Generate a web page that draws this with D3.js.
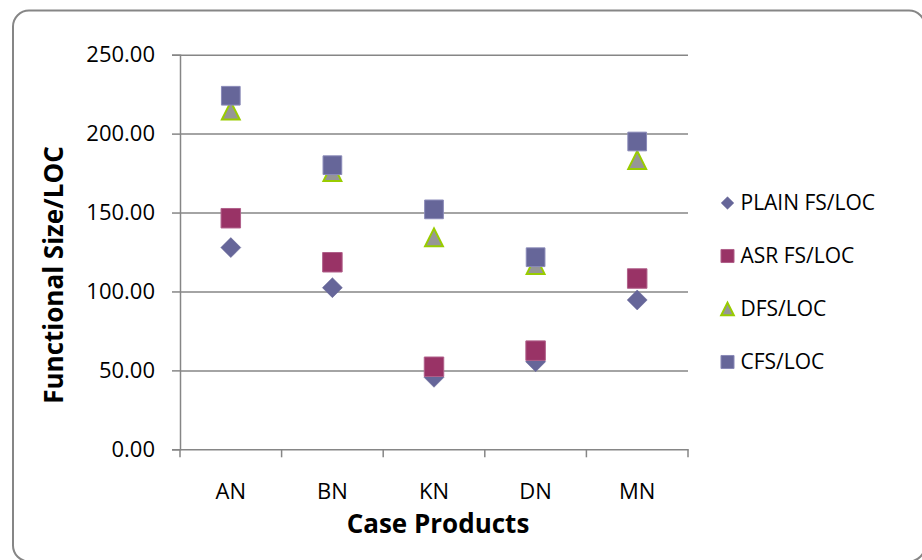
<!DOCTYPE html>
<meta charset="utf-8">
<style>
body { margin: 0; background: #fff; }
svg { display: block; }
.axis text { font-family: "Open Sans", "Liberation Sans", sans-serif; font-size: 22px; fill: #000; }
.axis line, .axis path { stroke: #868686; stroke-width: 1.5px; fill: none; }
.grid line { stroke: #868686; stroke-width: 1.5px; }
.grid path { display: none; }
.title { font-family: "Open Sans", "Liberation Sans", sans-serif; font-size: 26px; font-weight: bold; fill: #000; }
.legend text { font-family: "Open Sans", "Liberation Sans", sans-serif; font-size: 21px; fill: #000; }
</style>
<body>
<div id="chart"></div>
<script src="https://cdn.jsdelivr.net/npm/d3@7"></script>
<script>

// values
var categories = ["AN", "BN", "KN", "DN", "MN"];
var plainFs = [127.8, 102.4, 45.6, 55.5, 94.6];
var asrFs = [146.4, 118.5, 52.3, 62.5, 108.2];
var dfs = [214.6, 175.7, 134.3, 116.8, 183.3];
var cfs = [224.0, 180.0, 152.0, 121.7, 195.0];
var yTicks = [0, 50, 100, 150, 200, 250];
var seriesNames = ["PLAIN FS/LOC", "ASR FS/LOC", "DFS/LOC", "CFS/LOC"];

// triangle centred on its box, like the spreadsheet markers
var boxTriangle = {
  draw: function(ctx, size) {
    var h = Math.sqrt(size);
    ctx.moveTo(0, -h / 2);
    ctx.lineTo(h / 2, h / 2);
    ctx.lineTo(-h / 2, h / 2);
    ctx.closePath();
  }
};

var series = [
  {name: seriesNames[0], values: plainFs, type: d3.symbolSquare, rotate: 45, size: 200, legendSize: 80, fill: "#666699", stroke: "#666699", sw: 0.5},
  {name: seriesNames[1], values: asrFs, type: d3.symbolSquare, rotate: 0, size: 380, legendSize: 170, fill: "#993366", stroke: "#b0608a", sw: 1},
  {name: seriesNames[2], values: dfs, type: boxTriangle, rotate: 0, size: 320, legendSize: 160, fill: "#969696", stroke: "#99cc00", sw: 2},
  {name: seriesNames[3], values: cfs, type: d3.symbolSquare, rotate: 0, size: 350, legendSize: 170, fill: "#666699", stroke: "#8a8ab8", sw: 1}
];

function drawChart() {
  var W = 922, H = 560;
  var plotLeft = 180, plotRight = 688, plotTop = 54.7, plotBottom = 449.3;

  var svg = d3.select("#chart").append("svg")
    .attr("width", W)
    .attr("height", H);

  // chart frame
  svg.append("rect")
    .attr("x", 13).attr("y", 10.5)
    .attr("width", 912).attr("height", 551)
    .attr("rx", 16).attr("ry", 16)
    .attr("fill", "#fff")
    .attr("stroke", "#868686")
    .attr("stroke-width", 2);

  var x = d3.scaleBand().domain(categories).range([plotLeft, plotRight]).padding(0);
  var y = d3.scaleLinear().domain([0, 250]).range([plotBottom, plotTop]);

  // gridlines
  svg.append("g")
    .attr("class", "grid")
    .attr("transform", "translate(" + plotLeft + ",0)")
    .call(d3.axisRight(y).tickValues(yTicks.slice(1)).tickSize(plotRight - plotLeft).tickFormat(""));

  // y axis
  var yAxis = svg.append("g")
    .attr("class", "axis")
    .attr("transform", "translate(" + plotLeft + ",0)")
    .call(d3.axisLeft(y).tickValues(yTicks).tickSize(8).tickPadding(17).tickFormat(d3.format(".2f")));
  yAxis.attr("font-size", null).attr("font-family", null);

  // x axis: labels centred in bands, ticks on band edges
  var xAxis = svg.append("g")
    .attr("class", "axis")
    .attr("transform", "translate(0," + plotBottom + ")")
    .call(d3.axisBottom(x).tickSize(0).tickPadding(34).tickSizeOuter(0));
  xAxis.attr("font-size", null).attr("font-family", null);

  var edges = categories.map(function(c) { return x(c); }).concat([x.range()[1]]);
  xAxis.selectAll(".edge")
    .data(edges)
    .enter().append("line")
    .attr("class", "edge")
    .attr("x1", function(d) { return d; })
    .attr("x2", function(d) { return d; })
    .attr("y1", 0).attr("y2", 8);

  // axis titles
  svg.append("text")
    .attr("class", "title")
    .attr("x", 438)
    .attr("y", 533)
    .attr("text-anchor", "middle")
    .text("Case Products");

  svg.append("text")
    .attr("class", "title")
    .attr("transform", "translate(63,275) rotate(-90)")
    .attr("text-anchor", "middle")
    .text("Functional Size/LOC");

  // markers
  series.forEach(function(s) {
    var sym = d3.symbol().type(s.type).size(s.size);
    svg.append("g")
      .selectAll("path")
      .data(s.values)
      .enter().append("path")
      .attr("d", sym)
      .attr("transform", function(d, i) {
        return "translate(" + (x(categories[i]) + x.bandwidth() / 2) + "," + y(d) + ") rotate(" + s.rotate + ")";
      })
      .attr("fill", s.fill)
      .attr("stroke", s.stroke)
      .attr("stroke-width", s.sw);
  });

  // legend
  var legend = svg.append("g").attr("class", "legend");
  var rows = legend.selectAll("g")
    .data(series)
    .enter().append("g")
    .attr("transform", function(d, i) { return "translate(727.5," + (203 + i * 53) + ")"; });

  rows.append("path")
    .attr("d", function(d) { return d3.symbol().type(d.type).size(d.legendSize)(); })
    .attr("transform", function(d) { return "rotate(" + d.rotate + ")"; })
    .attr("fill", function(d) { return d.fill; })
    .attr("stroke", function(d) { return d.stroke; })
    .attr("stroke-width", function(d) { return d.sw; });

  rows.append("text")
    .attr("x", 13)
    .attr("dy", "0.35em")
    .text(function(d) { return d.name; });
}

drawChart();

</script>
